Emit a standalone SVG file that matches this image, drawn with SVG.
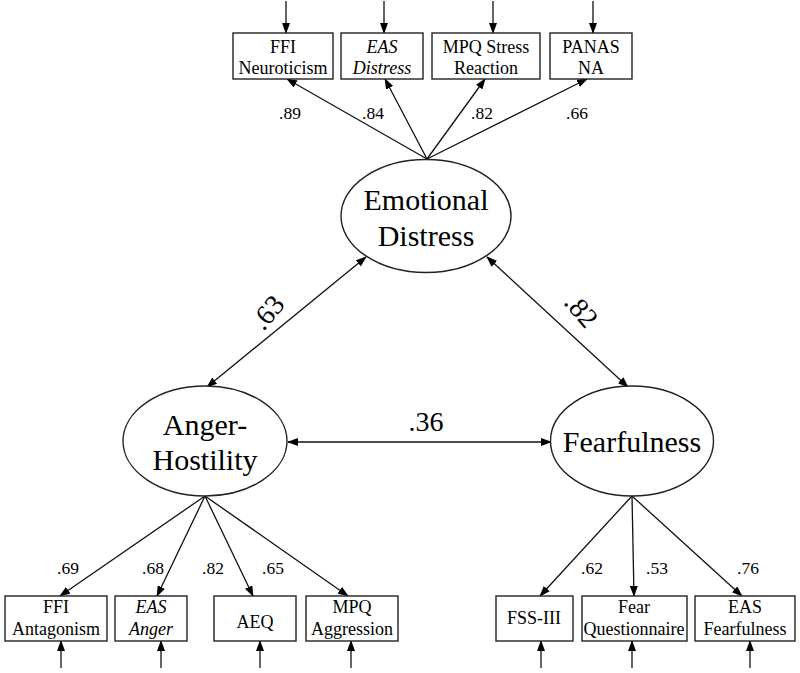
<svg xmlns="http://www.w3.org/2000/svg" width="800" height="673" viewBox="0 0 800 673" font-family="'Liberation Serif', 'Times New Roman', 'DejaVu Serif', serif">
<defs>
<marker id="ah" markerUnits="userSpaceOnUse" markerWidth="11" markerHeight="8" refX="10" refY="4" orient="auto-start-reverse" viewBox="0 0 11 8">
<path d="M0,0 L11,4 L0,8 z" fill="#000"/>
</marker>
<style>
text{font-family:'Liberation Serif','Times New Roman','DejaVu Serif',serif;fill:#000;text-anchor:middle}
.box{fill:#fff;stroke:#222;stroke-width:1.4}
.ell{fill:#fff;stroke:#222;stroke-width:1.4}
.bt{font-size:18px}
.it{font-style:italic}
.lt{font-size:30px}
.co{font-size:17.5px}
.bc{font-size:28px}
line{stroke:#111;stroke-width:1.3;marker-end:url(#ah)}
.dbl{marker-start:url(#ah)}
</style>
</defs>
<rect width="800" height="673" fill="#fff"/>
<g id="connectors">
<line x1="286" y1="1" x2="286" y2="33"/>
<line x1="384" y1="1" x2="384" y2="33"/>
<line x1="493" y1="1" x2="493" y2="33"/>
<line x1="593" y1="1" x2="593" y2="33"/>
<line x1="427" y1="159" x2="287" y2="79"/>
<line x1="427" y1="159" x2="385" y2="79"/>
<line x1="427" y1="159" x2="485" y2="79"/>
<line x1="427" y1="159" x2="587" y2="79"/>
<line class="dbl" x1="366" y1="257" x2="207" y2="387"/>
<line class="dbl" x1="487" y1="257" x2="628" y2="387"/>
<line class="dbl" x1="288" y1="442" x2="551" y2="442"/>
<line x1="205" y1="496" x2="60" y2="596"/>
<line x1="205" y1="496" x2="157" y2="596"/>
<line x1="205" y1="496" x2="253" y2="596"/>
<line x1="205" y1="496" x2="348" y2="596"/>
<line x1="632" y1="496" x2="540" y2="596"/>
<line x1="632" y1="496" x2="634" y2="596"/>
<line x1="632" y1="496" x2="742" y2="596"/>
<line x1="61" y1="668" x2="61" y2="641"/>
<line x1="161" y1="668" x2="161" y2="641"/>
<line x1="260" y1="668" x2="260" y2="641"/>
<line x1="351" y1="668" x2="351" y2="641"/>
<line x1="541" y1="668" x2="541" y2="641"/>
<line x1="632" y1="668" x2="632" y2="641"/>
<line x1="750" y1="668" x2="750" y2="641"/>
</g>
<g id="labels">
<text class="co" x="290" y="119">.89</text>
<text class="co" x="373" y="119">.84</text>
<text class="co" x="482" y="119">.82</text>
<text class="co" x="577" y="119">.66</text>
<text class="bc" transform="translate(267,312) rotate(-50)" x="0" y="10">.63</text>
<text class="bc" transform="translate(582,310) rotate(50)" x="0" y="10">.82</text>
<text class="bc" x="426" y="431">.36</text>
<text class="co" x="68" y="574">.69</text>
<text class="co" x="153" y="574">.68</text>
<text class="co" x="213" y="574">.82</text>
<text class="co" x="273" y="574">.65</text>
<text class="co" x="592" y="574">.62</text>
<text class="co" x="657" y="574">.53</text>
<text class="co" x="748" y="574">.76</text>
</g>
<g id="ffi-neuroticism"><rect class="box" x="233" y="33" width="100" height="46"/><text class="bt" x="283" y="53">FFI</text><text class="bt" x="283" y="74">Neuroticism</text></g>
<g id="eas-distress"><rect class="box" x="341" y="33" width="82" height="46"/><text class="bt it" x="382" y="53">EAS</text><text class="bt it" x="382" y="74">Distress</text></g>
<g id="mpq-stress"><rect class="box" x="432" y="33" width="108" height="46"/><text class="bt" x="486" y="53">MPQ Stress</text><text class="bt" x="486" y="74">Reaction</text></g>
<g id="panas-na"><rect class="box" x="550" y="33" width="82" height="46"/><text class="bt" x="591" y="53">PANAS</text><text class="bt" x="591" y="74">NA</text></g>
<g id="emotional-distress"><ellipse class="ell" cx="426" cy="216" rx="85" ry="56.5"/><text class="lt" x="426" y="210">Emotional</text><text class="lt" x="426" y="246">Distress</text></g>
<g id="anger-hostility"><ellipse class="ell" cx="205" cy="441" rx="82" ry="55"/><text class="lt" x="205" y="435">Anger-</text><text class="lt" x="205" y="470">Hostility</text></g>
<g id="fearfulness"><ellipse class="ell" cx="632" cy="441" rx="81.5" ry="55"/><text class="lt" x="632" y="452">Fearfulness</text></g>
<g id="ffi-antagonism"><rect class="box" x="5" y="596" width="102" height="45"/><text class="bt" x="56" y="613">FFI</text><text class="bt" x="56" y="635">Antagonism</text></g>
<g id="eas-anger"><rect class="box" x="115" y="596" width="72" height="45"/><text class="bt it" x="151" y="613">EAS</text><text class="bt it" x="151" y="635">Anger</text></g>
<g id="aeq"><rect class="box" x="214" y="596" width="82" height="45"/><text class="bt" x="255" y="628">AEQ</text></g>
<g id="mpq-aggression"><rect class="box" x="306" y="596" width="92" height="45"/><text class="bt" x="352" y="613">MPQ</text><text class="bt" x="352" y="635">Aggression</text></g>
<g id="fss-iii"><rect class="box" x="496" y="596" width="77" height="45"/><text class="bt" x="534" y="624">FSS-III</text></g>
<g id="fear-questionnaire"><rect class="box" x="582" y="596" width="105" height="45"/><text class="bt" x="634" y="613">Fear</text><text class="bt" x="634" y="635">Questionnaire</text></g>
<g id="eas-fearfulness"><rect class="box" x="695" y="596" width="100" height="45"/><text class="bt" x="745" y="613">EAS</text><text class="bt" x="745" y="635">Fearfulness</text></g>
</svg>
